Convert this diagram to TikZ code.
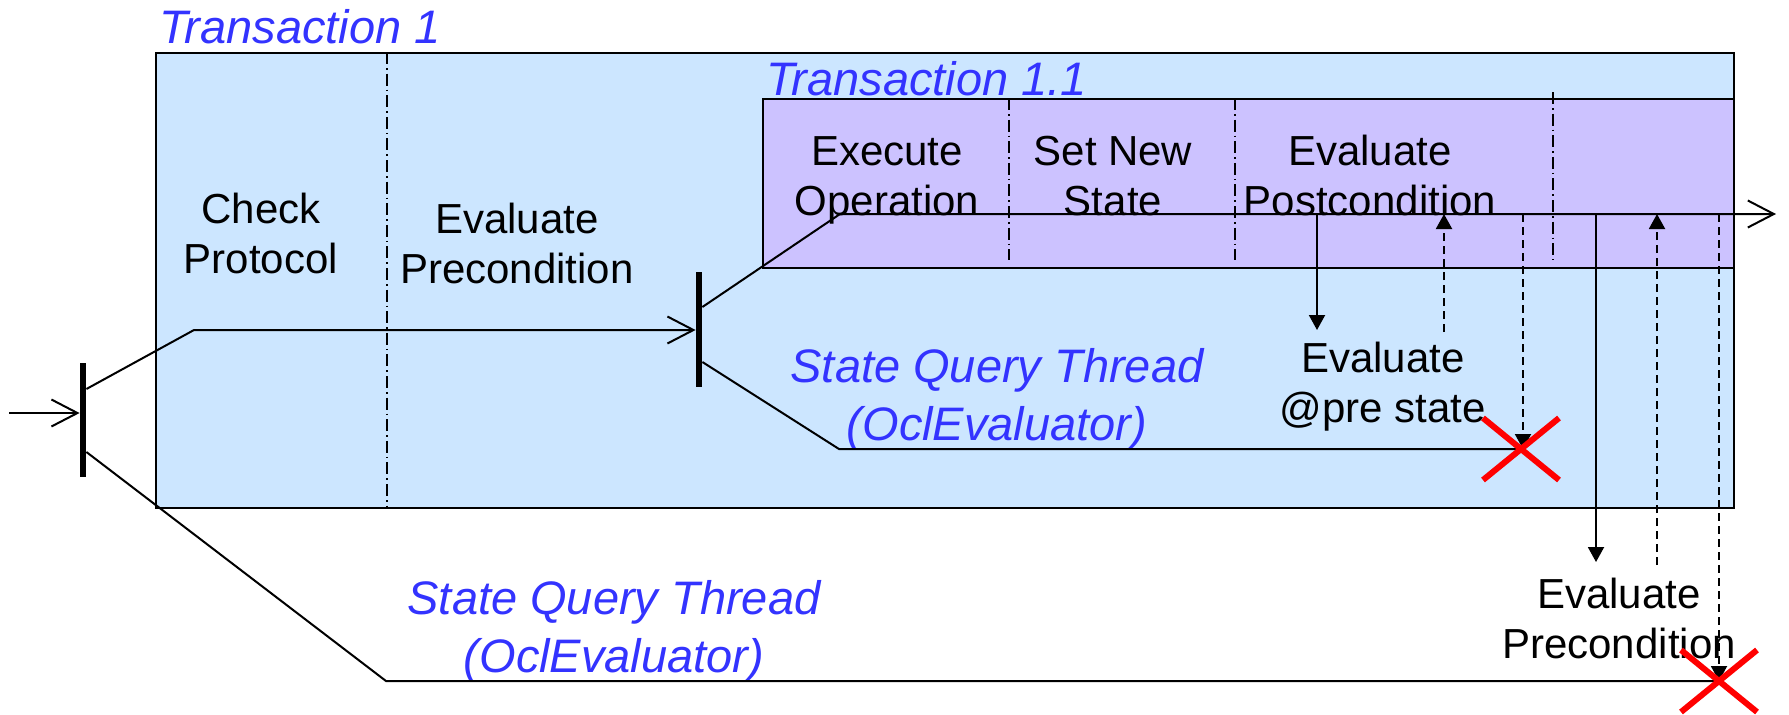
\documentclass[tikz,border=0pt]{standalone}
\usepackage{fontspec}
\setmainfont{Liberation Sans}
\usetikzlibrary{arrows.meta}
\definecolor{txnouter}{RGB}{204,230,255}
\definecolor{txninner}{RGB}{204,194,255}
\definecolor{labelblue}{RGB}{51,51,255}
\definecolor{killred}{RGB}{255,0,0}
\tikzset{
  steptext/.style={font=\fontsize{21}{25}\selectfont, align=center, inner sep=0pt, anchor=base},
  txnlabel/.style={font=\fontsize{23.5}{29}\selectfont\itshape, text=labelblue, inner sep=0pt},
  frame/.style={draw=black, line width=1pt, inner sep=0pt, anchor=north west},
  forkbar/.style={fill=black, draw=none, minimum width=3pt, inner sep=0pt},
  thread/.style={line width=1pt},
  phase/.style={line width=0.6pt, dash pattern=on 6pt off 2pt on 0.8pt off 2pt},
  openhead/.style={-{Straight Barb[length=13pt,width=13.5pt,line width=1pt]}},
  call/.style={line width=1pt,-{Triangle[length=7.5pt,width=8pt]}},
  reply/.style={call, dash pattern=on 4pt off 2.5pt},
  killmark/.pic={\draw[killred, line width=3pt] (-38,-31) -- (38,31) (-38,31) -- (38,-31);}
}
\begin{document}
\begin{tikzpicture}[x=0.5pt,y=-0.5pt]
\useasboundingbox (0,0) rectangle (1789,714);

% transaction frames
\node[frame, fill=txnouter, minimum width=789pt, minimum height=227.5pt] (t1) at (155,52) {};
\node[frame, fill=txninner, minimum width=485.5pt, minimum height=84.5pt] (t11) at (762,98) {};

% phase separators
\draw[phase] (387,52) -- (387,507);
\draw[phase] (1009,98) -- (1009,260);
\draw[phase] (1235,98) -- (1235,260);
\draw[phase] (1553,92) -- (1553,260);

% frame titles
\node[txnlabel, anchor=base west] (t1lab) at (159,43) {Transaction 1};
\node[txnlabel, anchor=base west] (t11lab) at (766,95) {Transaction 1.1};

% phase names (positioned by the baseline of their last line)
\node[steptext] (chk) at (261,273) {Check\\Protocol};
\node[steptext] (pre) at (517,283) {Evaluate\\Precondition};
\node[steptext] (exe) at (887,215) {Execute\\Operation};
\node[steptext] (set) at (1113,215) {Set New\\State};
\node[steptext] (post) at (1370,215) {Evaluate\\Postcondition};
\node[steptext] (atpre) at (1383,422) {Evaluate\\@pre state};
\node[steptext] (pre2) at (1619,658) {Evaluate\\Precondition};

% query thread labels
\node[txnlabel, align=center, anchor=base] (sq1) at (997,440) {State Query Thread\\(OclEvaluator)};
\node[txnlabel, align=center, anchor=base] (sq2) at (614,672) {State Query Thread\\(OclEvaluator)};

% forks
\node[forkbar, minimum height=57pt] (f1) at (83,420) {};
\node[forkbar, minimum height=57.5pt] (f2) at (699,329.5) {};

% thread bends and ends
\coordinate (in) at (9,413);
\coordinate (m1) at (194,330);
\coordinate (m2) at (840,214);
\coordinate (out) at (1776,214);
\coordinate (q1) at (839,449);
\coordinate (k1) at (1521,449);
\coordinate (q2) at (386,681);
\coordinate (k2) at (1719,681);

% main thread
\draw[thread, openhead] (in) -- (f1.west |- in);
\draw[thread, openhead] (f1.east |- 0,389) -- (m1) -- (f2.west |- m1);
\draw[thread, openhead] (f2.east |- 0,307) -- (m2) -- (out);

% query threads
\draw[thread] (f2.east |- 0,362) -- (q1) -- (k1);
\draw[thread] (f1.east |- 0,452) -- (q2) -- (k2);

% calls into the query threads and their replies
\coordinate (a1s) at (1317,214);  \coordinate (a1e) at (1317,330);
\coordinate (r1s) at (1444,332);  \coordinate (r1e) at (1444,214);
\coordinate (d1s) at (1523,214);
\coordinate (a2s) at (1596,214);  \coordinate (a2e) at (1596,562);
\coordinate (r2s) at (1657,565);  \coordinate (r2e) at (1657,214);
\coordinate (d2s) at (1719,214);
\draw[call] (a1s) -- (a1e);
\draw[reply] (r1s) -- (r1e);
\draw[reply] (d1s) -- (d1s |- k1);
\draw[call] (a2s) -- (a2e);
\draw[reply] (r2s) -- (r2e);
\draw[reply] (d2s) -- (k2);

% thread terminations
\pic at (k1) {killmark};
\pic at (k2) {killmark};
\end{tikzpicture}
\end{document}
